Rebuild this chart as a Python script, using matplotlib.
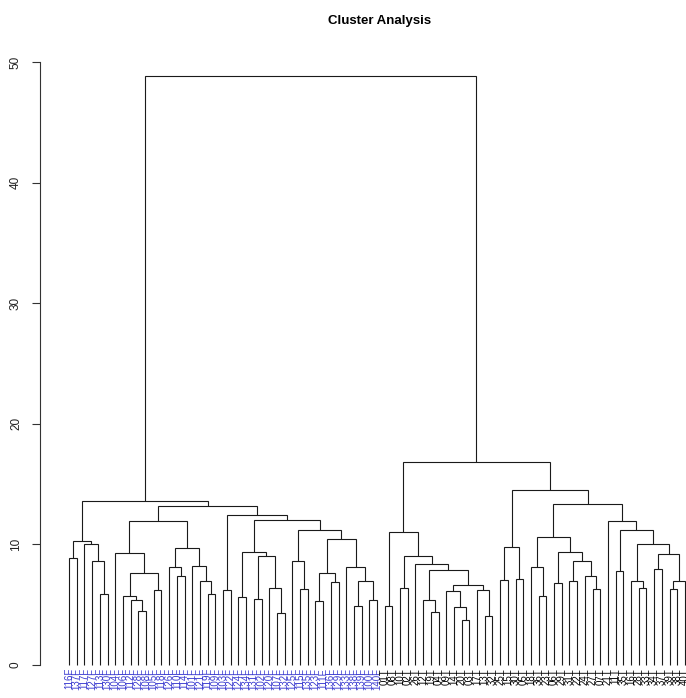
import matplotlib
matplotlib.use("Agg")
import matplotlib.pyplot as plt

plt.rcParams['font.family'] = ['Liberation Sans', 'DejaVu Sans']

# leaf labels in plotting order (F group drawn blue, T group black)
labels_f = ['116F', '137F', '117F', '127F', '113F', '130F', '104F', '106F', '112F', '128F',
            '108F', '105F', '118F', '126F', '110F', '114F', '101F', '121F', '119F', '109F',
            '103F', '122F', '124F', '134F', '131F', '102F', '120F', '107F', '132F', '125F',
            '115F', '135F', '123F', '111F', '136F', '129F', '133F', '138F', '139F', '100F',
            '140F']
labels_t = ['01T', '08T', '10T', '02T', '26T', '12T', '19T', '04T', '09T', '14T',
            '20T', '03T', '17T', '13T', '32T', '25T', '15T', '30T', '05T', '18T',
            '36T', '23T', '06T', '29T', '31T', '22T', '24T', '27T', '07T', '21T',
            '11T', '35T', '16T', '28T', '33T', '34T', '37T', '39T', '38T', '40T']

# hclust style merge table: negative = leaf number (1-based), positive = earlier merge row
merge_a = [-1, -5, -4, -3, 1, -10, -9, -8, -12, 8, -7, -15, -14, -19, -18, -17, 13, 11,
           -21, -23, -25, -28, -27, 21, 20, -31, -30, -33, -35, 28, -38, -40, 31, -37, 30,
           27, 25, 19, 18, 5,
           -42, -44, -48, -47, -52, -51, -50, -55, -54, 47, 44, -46, 42, 41,
           -57, -59, 55, -62, -61, -64, -66, -69, -68, 61, 60, 59, -72, -75, -74, -77,
           -79, 71, 70, 69, 67, -71, 66, 57, 54, 40]
merge_b = [-2, -6, 2, 3, 4, -11, 6, 7, -13, 9, 10, -16, 12, -20, 14, 15, 16, 17,
           -22, -24, -26, -29, 22, 23, 24, -32, 26, -34, -36, 29, -39, -41, 32, 33, 34,
           35, 36, 37, 38, 39,
           -43, -45, -49, 43, -53, 45, 46, -56, 48, 49, 50, 51, 52, 53,
           -58, -60, 56, -63, 58, -65, -67, -70, 62, 63, 64, 65, -73, -76, 68, -78,
           -80, -81, 72, 73, 74, 75, 76, 77, 78, 79]
merge_h = [8.9, 5.9, 8.6, 10.0, 10.3, 4.5, 5.4, 5.75, 6.2, 7.6, 9.3, 7.4, 8.15, 5.9, 7.0,
           8.2, 9.7, 11.9, 6.2, 5.6, 5.5, 4.3, 6.4, 9.0, 9.4, 6.3, 8.65, 5.3, 6.9, 7.6,
           4.9, 5.35, 7.0, 8.1, 10.45, 11.2, 12.0, 12.4, 13.2, 13.6,
           4.9, 6.35, 4.4, 5.35, 3.7, 4.8, 6.1, 4.05, 6.2, 6.6, 7.9, 8.4, 9.0, 11.0,
           7.05, 7.1, 9.8, 5.7, 8.1, 6.8, 7.0, 6.3, 7.4, 8.65, 9.4, 10.65, 7.8, 6.35,
           7.0, 8.0, 6.3, 7.0, 9.2, 10.0, 11.2, 11.9, 13.35, 14.5, 16.8, 48.8]

labels = labels_f + labels_t
n = len(labels)

fig = plt.figure(figsize=(6.86, 6.98), dpi=100)
ax = fig.add_axes([40 / 686, 0.030, 680 / 686, 0.8985])

node_x = []
node_y = []
def pos(k):
    if k < 0:
        return -k - 1, 0.0
    return node_x[k - 1], node_y[k - 1]

for a, b, h in zip(merge_a, merge_b, merge_h):
    xa, ya = pos(a)
    xb, yb = pos(b)
    ax.plot([xa, xa, xb, xb], [ya, h, h, yb], color='#1a1a1a', lw=0.8,
            solid_capstyle='butt', solid_joinstyle='miter')
    node_x.append((xa + xb) / 2)
    node_y.append(h)

for i, lab in enumerate(labels):
    c = '#3a3ad0' if i < len(labels_f) else 'black'
    ax.text(i, -0.25, lab, rotation=90, ha='center', va='top', fontsize=7, color=c)

ax.set_xlim(-3.77, 84.55)
ax.set_ylim(-1, 51)
ax.set_xticks([])
ax.set_yticks([0, 10, 20, 30, 40, 50])
ax.set_yticklabels(['0', '10', '20', '30', '40', '50'], rotation=90, va='center', fontsize=8.5)
ax.tick_params(axis='y', length=6, width=0.8, pad=7, color='#333333', labelcolor='#222222')
for s in ['top', 'right', 'bottom']:
    ax.spines[s].set_visible(False)
ax.spines['left'].set_bounds(0, 50)
ax.spines['left'].set_linewidth(0.8)
ax.spines['left'].set_color('#333333')

fig.text(380 / 686, 1 - 21 / 698, 'Cluster Analysis', ha='center', va='center',
         fontsize=9.5, fontweight='bold')

fig.savefig('out.png', dpi=100)
